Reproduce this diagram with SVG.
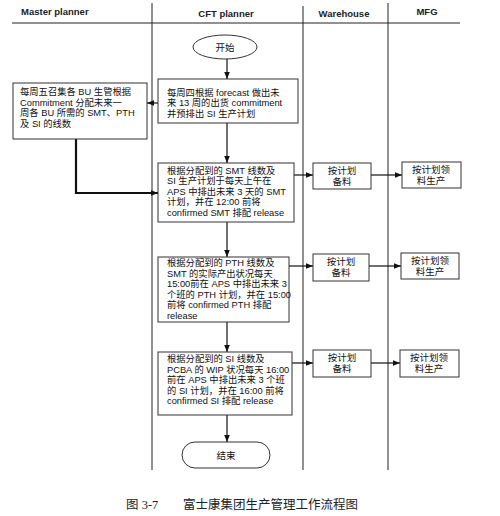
<svg xmlns="http://www.w3.org/2000/svg" width="500" height="516" viewBox="0 0 500 516">
<defs>
<style>
.hdr{font-family:"Liberation Sans",Arial,sans-serif;font-size:9.5px;font-weight:bold;fill:#222}
.t{font-family:"Liberation Sans","Noto Sans CJK SC",sans-serif;font-size:9.3px;fill:#111}
.tc{font-family:"Liberation Sans","Noto Sans CJK SC",sans-serif;font-size:9.5px;fill:#111;text-anchor:middle}
.box{fill:#fff;stroke:#333;stroke-width:1}
.lane{stroke:#222;stroke-width:1;fill:none}
.con{stroke:#111;stroke-width:1.2;fill:none}
.cap{font-family:"Liberation Serif","Noto Sans CJK SC",serif;font-size:12.5px;fill:#222}
</style>
<marker id="arr" viewBox="0 0 10 10" refX="10" refY="5" markerWidth="7" markerHeight="7" orient="auto" markerUnits="userSpaceOnUse">
<path d="M0,1 L10,5 L0,9 z" fill="#111"/>
</marker>
</defs>
<rect width="500" height="516" fill="#fff"/>

<g id="lanes">
<line class="lane" x1="12" y1="23" x2="460" y2="23"/>
<line class="lane" x1="152" y1="3" x2="152" y2="470"/>
<line class="lane" x1="303" y1="6" x2="303" y2="470"/>
<line class="lane" x1="388" y1="3" x2="388" y2="470"/>
<text class="hdr" x="21" y="15">Master planner</text>
<text class="hdr" x="226" y="17" text-anchor="middle">CFT planner</text>
<text class="hdr" x="344" y="17" text-anchor="middle">Warehouse</text>
<text class="hdr" x="427" y="15" text-anchor="middle">MFG</text>
</g>

<g id="connectors">
<line class="con" x1="227" y1="59" x2="227" y2="79" marker-end="url(#arr)"/>
<line class="con" x1="158" y1="103" x2="147" y2="103" marker-end="url(#arr)"/>
<polyline points="76,139 76,193 158,193" fill="none" stroke="#111" stroke-width="2.2" marker-end="url(#arr)"/>
<line class="con" x1="227" y1="123" x2="227" y2="163" marker-end="url(#arr)"/>
<line class="con" x1="227" y1="222" x2="227" y2="257" marker-end="url(#arr)"/>
<line class="con" x1="227" y1="322" x2="227" y2="352" marker-end="url(#arr)"/>
<line class="con" x1="227" y1="415" x2="227" y2="442" marker-end="url(#arr)"/>
<line class="con" x1="294" y1="175" x2="313" y2="175" marker-end="url(#arr)"/>
<line class="con" x1="371" y1="175" x2="402" y2="175" marker-end="url(#arr)"/>
<line class="con" x1="289" y1="266" x2="313" y2="266" marker-end="url(#arr)"/>
<line class="con" x1="369" y1="266" x2="401" y2="266" marker-end="url(#arr)"/>
<line class="con" x1="292" y1="363" x2="313" y2="363" marker-end="url(#arr)"/>
<line class="con" x1="371" y1="363" x2="400" y2="363" marker-end="url(#arr)"/>
</g>

<g id="start">
<ellipse class="box" cx="225" cy="47" rx="32" ry="12"/>
<text class="tc" x="225" y="51">开始</text>
</g>

<g id="master">
<rect class="box" x="13" y="83" width="134" height="56"/>
<text class="t"><tspan x="20" y="95">每周五召集各 BU 生管根据</tspan><tspan x="20" y="105.5">Commitment 分配未来一</tspan><tspan x="20" y="116">周各 BU 所需的 SMT、PTH</tspan><tspan x="20" y="126.5">及 SI 的线数</tspan></text>
</g>

<g id="cft1">
<rect class="box" x="158" y="79" width="140" height="44"/>
<text class="t"><tspan x="167" y="95.5">每周四根据 forecast 做出未</tspan><tspan x="167" y="106">来 13 周的出货 commitment</tspan><tspan x="167" y="116.5">并预排出 SI 生产计划</tspan></text>
</g>

<g id="smt">
<rect class="box" x="158" y="163" width="136" height="59"/>
<text class="t"><tspan x="167" y="173.5">根据分配到的 SMT 线数及</tspan><tspan x="167" y="184">SI 生产计划于每天上午在</tspan><tspan x="167" y="194.5">APS 中排出未来 3 天的 SMT</tspan><tspan x="167" y="205">计划，并在 12:00 前将</tspan><tspan x="167" y="215.5">confirmed SMT 排配 release</tspan></text>
</g>

<g id="pth">
<rect class="box" x="158" y="257" width="131" height="65"/>
<text class="t"><tspan x="167" y="266">根据分配到的 PTH 线数及</tspan><tspan x="167" y="276.5">SMT 的实际产出状况每天</tspan><tspan x="167" y="287">15:00前在 APS 中排出未来 3</tspan><tspan x="167" y="297.5">个班的 PTH 计划，并在 15:00</tspan><tspan x="167" y="308">前将 confirmed PTH 排配</tspan><tspan x="167" y="318.5">release</tspan></text>
</g>

<g id="si">
<rect class="box" x="158" y="352" width="134" height="63"/>
<text class="t"><tspan x="167" y="362">根据分配到的 SI 线数及</tspan><tspan x="167" y="372.5">PCBA 的 WIP 状况每天 16:00</tspan><tspan x="167" y="383">前在 APS 中排出未来 3 个班</tspan><tspan x="167" y="393.5">的 SI 计划，并在 16:00 前将</tspan><tspan x="167" y="404">confirmed SI 排配 release</tspan></text>
</g>

<g id="end">
<rect class="box" x="182" y="442" width="88" height="26" rx="13" ry="13"/>
<text class="tc" x="226" y="459">结束</text>
</g>

<g id="wh1">
<rect class="box" x="313" y="163" width="58" height="26"/>
<text class="tc"><tspan x="342" y="174">按计划</tspan><tspan x="342" y="185">备料</tspan></text>
</g>
<g id="mfg1">
<rect class="box" x="402" y="162" width="59" height="26"/>
<text class="tc"><tspan x="431" y="173">按计划领</tspan><tspan x="431" y="184">料生产</tspan></text>
</g>
<g id="wh2">
<rect class="box" x="313" y="254" width="56" height="27"/>
<text class="tc"><tspan x="341" y="265">按计划</tspan><tspan x="341" y="276">备料</tspan></text>
</g>
<g id="mfg2">
<rect class="box" x="401" y="253" width="58" height="26"/>
<text class="tc"><tspan x="430" y="264">按计划领</tspan><tspan x="430" y="275">料生产</tspan></text>
</g>
<g id="wh3">
<rect class="box" x="313" y="350" width="58" height="27"/>
<text class="tc"><tspan x="342" y="361">按计划</tspan><tspan x="342" y="372">备料</tspan></text>
</g>
<g id="mfg3">
<rect class="box" x="400" y="350" width="59" height="27"/>
<text class="tc"><tspan x="429" y="361">按计划领</tspan><tspan x="429" y="372">料生产</tspan></text>
</g>

<g id="caption">
<text class="cap" x="126" y="509">图 3-7</text>
<text class="cap" x="183" y="509">富士康集团生产管理工作流程图</text>
</g>
</svg>
